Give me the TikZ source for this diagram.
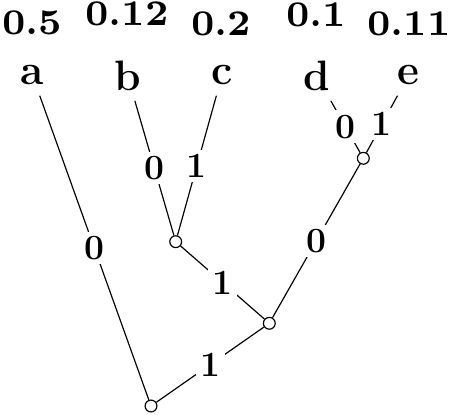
\documentclass[tikz,border=0pt]{standalone}
\usepackage{tikz}
\usetikzlibrary{positioning}

% probabilities: small bold face, enlarged
\newcommand{\probtext}[1]{\scalebox{1.75}{\fontsize{7}{8}\selectfont\bfseries #1}}

\tikzset{
    leaf/.style={font=\Large\bfseries},
    prob/.style={anchor=base, inner sep=0pt},
    junction/.style={circle, draw, fill=white, inner sep=0pt, minimum size=4pt},
    bit/.style={font=\large\bfseries, fill=white, inner sep=1.5pt}
}

\begin{document}
\begin{tikzpicture}[x=1.19cm, y=1.19cm]
    \useasboundingbox (0,0) rectangle (4.55,4.18);

    % Symbols (leaves)
    \node[leaf] (a) at (0.325,3.425) {a};
    \node[leaf] (b) at (1.275,3.425) {b};
    \node[leaf] (c) at (2.22,3.425) {c};
    \node[leaf] (d) at (3.165,3.425) {d};
    \node[leaf] (e) at (4.085,3.425) {e};

    % Probabilities
    \node[prob] (pa) at (0.32,3.83) {\probtext{0.5}};
    \node[prob] (pb) at (1.27,3.92) {\probtext{0.12}};
    \node[prob] (pc) at (2.21,3.82) {\probtext{0.2}};
    \node[prob] (pd) at (3.16,3.91) {\probtext{0.1}};
    \node[prob] (pe) at (4.09,3.82) {\probtext{0.11}};

    % Merged nodes
    \node[junction] (root) at (1.51,0.12) {};
    \node[junction] (nbcde) at (2.693,0.947) {};
    \node[junction] (nbc) at (1.757,1.763) {};
    \node[junction] (nde) at (3.633,2.597) {};

    % Edges with code bits
    \draw (a) -- node[bit] {0} (root);
    \draw (b) -- node[bit] {0} (nbc);
    \draw (c) -- node[bit] {1} (nbc);
    \draw (d) -- node[bit] {0} (nde);
    \draw (e) -- node[bit] {1} (nde);
    \draw (nbc) -- node[bit] {1} (nbcde);
    \draw (nde) -- node[bit] {0} (nbcde);
    \draw (nbcde) -- node[bit] {1} (root);
\end{tikzpicture}
\end{document}
